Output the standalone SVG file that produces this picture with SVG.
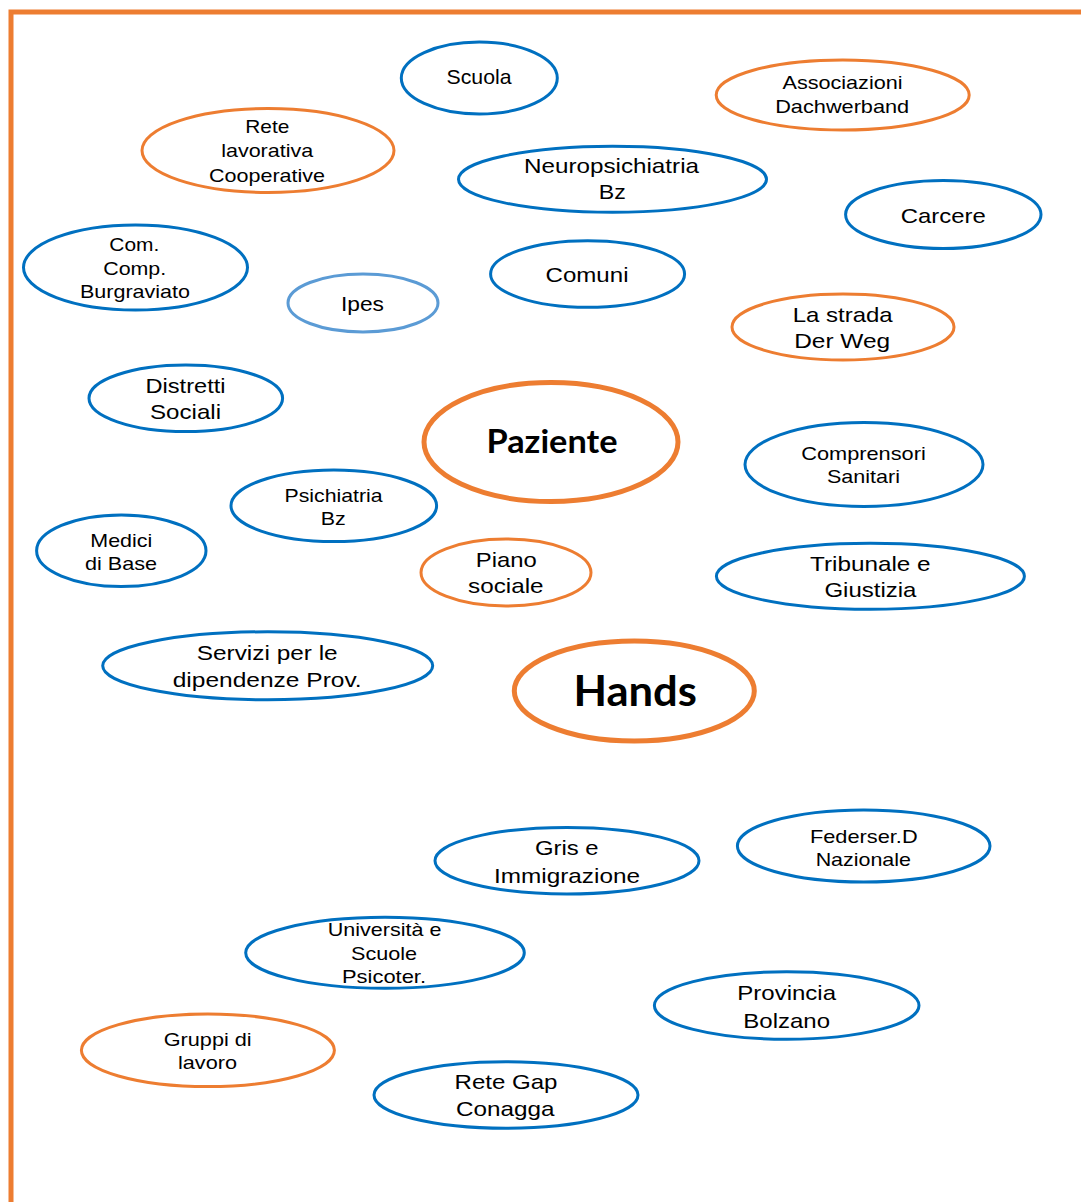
<svg xmlns="http://www.w3.org/2000/svg" width="1081" height="1202" viewBox="0 0 1081 1202">
<style>
.b{fill:#fff;stroke:#0070C0;stroke-width:3}
.o{fill:#fff;stroke:#ED7D31;stroke-width:3}
.l{fill:#fff;stroke:#5B9BD5;stroke-width:3}
.big{fill:#fff;stroke:#ED7D31;stroke-width:5}
text{font-family:"Liberation Sans",Arial,sans-serif;fill:#000;text-anchor:middle}
.s{font-size:18.5px}
.m{font-size:21px}
.h{font-family:Lato,"Open Sans",sans-serif;font-weight:bold}
</style>
<rect width="1081" height="1202" fill="#fff"/>
<g id="border" fill="none" stroke="#ED7D31" stroke-width="5">
<path d="M11 1202 V12 H1081"/>
</g>
<g id="connectors"></g>
<g id="scuola"><ellipse class="b" cx="479.3" cy="78" rx="78" ry="36"/><text class="m" x="479" y="84" textLength="65" lengthAdjust="spacingAndGlyphs">Scuola</text></g>
<g id="associazioni"><ellipse class="o" cx="842.7" cy="95" rx="126.5" ry="35"/><text class="s" x="842.5" y="89.3" textLength="120" lengthAdjust="spacingAndGlyphs">Associazioni</text><text class="s" x="842.2" y="113.3" textLength="134" lengthAdjust="spacingAndGlyphs">Dachwerband</text></g>
<g id="rete-lavorativa"><ellipse class="o" cx="268" cy="150.5" rx="126" ry="42"/><text class="s" x="267.3" y="133.3" textLength="44" lengthAdjust="spacingAndGlyphs">Rete</text><text class="s" x="267.2" y="157.3" textLength="92" lengthAdjust="spacingAndGlyphs">lavorativa</text><text class="s" x="267" y="181.5" textLength="116" lengthAdjust="spacingAndGlyphs">Cooperative</text></g>
<g id="neuropsichiatria"><ellipse class="b" cx="612.5" cy="179.3" rx="154" ry="33"/><text class="m" x="611.5" y="172.7" textLength="175" lengthAdjust="spacingAndGlyphs">Neuropsichiatria</text><text class="m" x="612.3" y="199.3" textLength="27" lengthAdjust="spacingAndGlyphs">Bz</text></g>
<g id="carcere"><ellipse class="b" cx="943.3" cy="214.5" rx="97.7" ry="34"/><text class="m" x="943.3" y="222.5" textLength="85" lengthAdjust="spacingAndGlyphs">Carcere</text></g>
<g id="com-comp"><ellipse class="b" cx="135.5" cy="267.5" rx="112" ry="42.5"/><text class="s" x="134.3" y="250.7" textLength="50" lengthAdjust="spacingAndGlyphs">Com.</text><text class="s" x="134.7" y="274.5" textLength="63" lengthAdjust="spacingAndGlyphs">Comp.</text><text class="s" x="135" y="298" textLength="110" lengthAdjust="spacingAndGlyphs">Burgraviato</text></g>
<g id="ipes"><ellipse class="l" cx="363" cy="303" rx="75" ry="29"/><text class="m" x="362.5" y="310.7" textLength="43" lengthAdjust="spacingAndGlyphs">Ipes</text></g>
<g id="comuni"><ellipse class="b" cx="587.6" cy="274" rx="97" ry="33.3"/><text class="m" x="587" y="281.7" textLength="83" lengthAdjust="spacingAndGlyphs">Comuni</text></g>
<g id="la-strada"><ellipse class="o" cx="843" cy="327" rx="111" ry="33"/><text class="m" x="842.7" y="321.7" textLength="100" lengthAdjust="spacingAndGlyphs">La strada</text><text class="m" x="842.2" y="348.3" textLength="96" lengthAdjust="spacingAndGlyphs">Der Weg</text></g>
<g id="distretti"><ellipse class="b" cx="185.8" cy="398.3" rx="96.8" ry="33.3"/><text class="m" x="185.5" y="392.7" textLength="80" lengthAdjust="spacingAndGlyphs">Distretti</text><text class="m" x="185.5" y="419.3" textLength="71" lengthAdjust="spacingAndGlyphs">Sociali</text></g>
<g id="paziente"><ellipse class="big" cx="551" cy="442" rx="127" ry="59.5"/><text class="h" x="552" y="453.3" font-size="32" textLength="131" lengthAdjust="spacingAndGlyphs">Paziente</text></g>
<g id="comprensori"><ellipse class="b" cx="864" cy="464.5" rx="119" ry="42"/><text class="s" x="863.5" y="460" textLength="124.5" lengthAdjust="spacingAndGlyphs">Comprensori</text><text class="s" x="863.5" y="482.7" textLength="73" lengthAdjust="spacingAndGlyphs">Sanitari</text></g>
<g id="psichiatria"><ellipse class="b" cx="333.8" cy="505.8" rx="102.8" ry="35.8"/><text class="s" x="333.5" y="501.7" textLength="98" lengthAdjust="spacingAndGlyphs">Psichiatria</text><text class="s" x="333.3" y="525" textLength="25" lengthAdjust="spacingAndGlyphs">Bz</text></g>
<g id="medici"><ellipse class="b" cx="121.3" cy="550.8" rx="84.7" ry="35.8"/><text class="s" x="121.3" y="546.7" textLength="62" lengthAdjust="spacingAndGlyphs">Medici</text><text class="s" x="121" y="570" textLength="72" lengthAdjust="spacingAndGlyphs">di Base</text></g>
<g id="piano"><ellipse class="o" cx="506" cy="572.5" rx="85" ry="33.5"/><text class="m" x="506.3" y="566.7" textLength="61" lengthAdjust="spacingAndGlyphs">Piano</text><text class="m" x="505.8" y="592.7" textLength="75.5" lengthAdjust="spacingAndGlyphs">sociale</text></g>
<g id="tribunale"><ellipse class="b" cx="870.4" cy="576.3" rx="154" ry="33"/><text class="m" x="870.3" y="570.7" textLength="120.6" lengthAdjust="spacingAndGlyphs">Tribunale e</text><text class="m" x="870.4" y="597.3" textLength="92" lengthAdjust="spacingAndGlyphs">Giustizia</text></g>
<g id="servizi"><ellipse class="b" cx="267.7" cy="665.8" rx="165" ry="34"/><text class="m" x="267.2" y="660" textLength="141" lengthAdjust="spacingAndGlyphs">Servizi per le</text><text class="m" x="267.2" y="686.7" textLength="189" lengthAdjust="spacingAndGlyphs">dipendenze Prov.</text></g>
<g id="hands"><ellipse class="big" cx="634.3" cy="691" rx="120" ry="50"/><text class="h" x="635.2" y="706" font-size="42" textLength="123.5" lengthAdjust="spacingAndGlyphs">Hands</text></g>
<g id="gris"><ellipse class="b" cx="567" cy="860.7" rx="132" ry="33.3"/><text class="m" x="566.8" y="855" textLength="63.6" lengthAdjust="spacingAndGlyphs">Gris e</text><text class="m" x="567" y="883" textLength="146" lengthAdjust="spacingAndGlyphs">Immigrazione</text></g>
<g id="federserd"><ellipse class="b" cx="863.7" cy="846" rx="126.3" ry="36"/><text class="s" x="863.8" y="842.7" textLength="107.7" lengthAdjust="spacingAndGlyphs">Federser.D</text><text class="s" x="863.3" y="866" textLength="95.3" lengthAdjust="spacingAndGlyphs">Nazionale</text></g>
<g id="universita"><ellipse class="b" cx="385" cy="952.8" rx="139.3" ry="35.5"/><text class="s" x="384.6" y="936" textLength="113.5" lengthAdjust="spacingAndGlyphs">Università e</text><text class="s" x="384" y="960" textLength="66" lengthAdjust="spacingAndGlyphs">Scuole</text><text class="s" x="384" y="983.3" textLength="84" lengthAdjust="spacingAndGlyphs">Psicoter.</text></g>
<g id="provincia"><ellipse class="b" cx="786.7" cy="1005.5" rx="132.3" ry="33.8"/><text class="m" x="786.7" y="1000" textLength="98.7" lengthAdjust="spacingAndGlyphs">Provincia</text><text class="m" x="786.7" y="1027.7" textLength="86.7" lengthAdjust="spacingAndGlyphs">Bolzano</text></g>
<g id="gruppi"><ellipse class="o" cx="207.9" cy="1050.3" rx="126.5" ry="36.3"/><text class="s" x="207.7" y="1046" textLength="88" lengthAdjust="spacingAndGlyphs">Gruppi di</text><text class="s" x="207.5" y="1069.3" textLength="59" lengthAdjust="spacingAndGlyphs">lavoro</text></g>
<g id="rete-gap"><ellipse class="b" cx="506" cy="1095" rx="132" ry="33.3"/><text class="m" x="506" y="1089.3" textLength="103" lengthAdjust="spacingAndGlyphs">Rete Gap</text><text class="m" x="505.3" y="1115.5" textLength="98.6" lengthAdjust="spacingAndGlyphs">Conagga</text></g>
</svg>
